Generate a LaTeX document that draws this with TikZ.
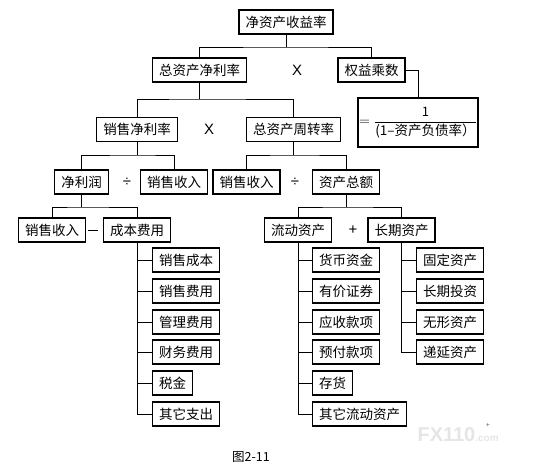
\documentclass[tikz,border=0pt]{standalone}
\usepackage{fontspec}
\newfontfamily\cjk{Noto Sans CJK SC}
\setmainfont{Liberation Sans}
\begin{document}
\begin{tikzpicture}[x=1pt,y=-1pt,
  every node/.style={font=\cjk\fontsize{13.5}{15}\selectfont},
  bx/.style={draw,line width=1.2pt,minimum height=24pt,inner xsep=6.5pt,inner ysep=0pt},
  lbox/.style={bx,anchor=west},
  conn/.style={line width=1pt},
  sign/.style={inner sep=0pt,font=\fontsize{15}{17}\selectfont}]
\useasboundingbox (0,0) rectangle (554,471);
% level 0
\node[bx] (roe) at (286,22) {净资产收益率};
% level 1
\node[bx] (ta) at (199.5,70) {总资产净利率};
\node[sign] (x1) at (297,70) {X};
\node[bx] (em) at (371.5,70) {权益乘数};
\node[draw,line width=1.2pt,minimum width=120pt,minimum height=49pt,inner sep=0pt] (fm) at (418,122.5)
  {\fontsize{14}{16}\selectfont$=\displaystyle\frac{\mbox{\cjk\fontsize{13}{15}\selectfont 1}}{\mbox{\cjk\fontsize{13.5}{15}\selectfont (1–资产负债率）}}$};
% level 2
\node[bx] (npm) at (137,129.5) {销售净利率};
\node[sign] (x2) at (209,129.5) {X};
\node[bx] (tat) at (293.5,129.5) {总资产周转率};
% level 3
\node[bx] (np) at (81.5,182) {净利润};
\node[sign] (d1) at (127,182) {÷};
\node[bx] (sr1) at (174,182) {销售收入};
\node[bx] (sr2) at (246.5,182) {销售收入};
\node[sign] (d2) at (295,182) {÷};
\node[bx] (tas) at (346,182) {资产总额};
% level 4
\node[bx] (sr3) at (52,230) {销售收入};
\node[inner sep=0pt] (m1) at (92.5,230) {\rule[0pt]{10pt}{0.8pt}};
\node[bx] (cost) at (137,230) {成本费用};
\node[bx] (ca) at (298,230) {流动资产};
\node[sign] (p1) at (353,230) {+};
\node[bx] (la) at (401.5,230) {长期资产};
% expense list
\node[lbox] (e1) at (152,260) {销售成本};
\node[lbox] (e2) at (152,291) {销售费用};
\node[lbox] (e3) at (152,322) {管理费用};
\node[lbox] (e4) at (152,352) {财务费用};
\node[lbox] (e5) at (152,383) {税金};
\node[lbox] (e6) at (152,414) {其它支出};
% current assets
\node[lbox] (c1) at (312,260) {货币资金};
\node[lbox] (c2) at (312,291) {有价证券};
\node[lbox] (c3) at (312,322) {应收款项};
\node[lbox] (c4) at (312,352) {预付款项};
\node[lbox] (c5) at (312,383) {存货};
\node[lbox] (c6) at (312,414) {其它流动资产};
% long-term assets
\node[lbox] (l1) at (416,260) {固定资产};
\node[lbox] (l2) at (416,291) {长期投资};
\node[lbox] (l3) at (416,322) {无形资产};
\node[lbox] (l4) at (416,352) {递延资产};
% caption and watermark
\node[font=\cjk\fontsize{12.5}{14}\selectfont] (cap) at (251,457) {图2-11};
\node[text=black!10,font=\fontsize{20}{22}\selectfont\bfseries,anchor=west] (wm) at (414,435) {FX110\fontsize{10}{12}\selectfont.com};
\node[sign,font=\fontsize{7}{8}\selectfont,text=black!60] (wp) at (488,425) {+};
% junctions
\coordinate (j1) at (286,47);
\coordinate (j2) at (199.5,99);
\coordinate (j3) at (137,155);
\coordinate (j4) at (293.5,155);
\coordinate (j5) at (81.5,207);
\coordinate (j6) at (346,207);
% connectors
\draw[conn] (roe.south) -- (j1);
\draw[conn] (ta.north) |- (j1) -| (em.north);
\draw[conn] (em.east) -| (fm.north);
\draw[conn] (ta.south) -- (j2);
\draw[conn] (npm.north) |- (j2) -| (tat.north);
\draw[conn] (npm.south) -- (j3);
\draw[conn] (np.north) |- (j3) -| (sr1.north);
\draw[conn] (tat.south) -- (j4);
\draw[conn] (sr2.north) |- (j4) -| (tas.north);
\draw[conn] (np.south) -- (j5);
\draw[conn] (sr3.north) |- (j5) -| (cost.north);
\draw[conn] (tas.south) -- (j6);
\draw[conn] (ca.north) |- (j6) -| (la.north);
\foreach \n in {e1,e2,e3,e4,e5,e6} \draw[conn] (cost.south) |- (\n.west);
\foreach \n in {c1,c2,c3,c4,c5,c6} \draw[conn] (ca.south) |- (\n.west);
\foreach \n in {l1,l2,l3,l4} \draw[conn] (la.south) |- (\n.west);
\end{tikzpicture}
\end{document}
